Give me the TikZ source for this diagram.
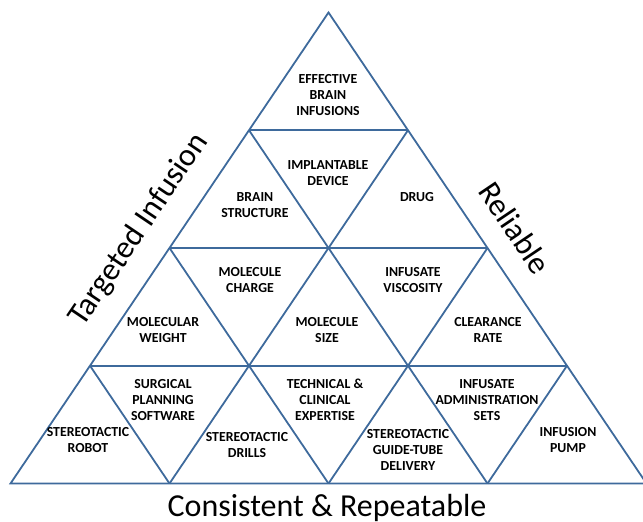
\documentclass[tikz,border=0pt]{standalone}
\usepackage{fontspec}
\setmainfont{Carlito}
\definecolor{edge}{RGB}{62,106,156}
\begin{document}
\begin{tikzpicture}[x=1pt,y=-1pt,
  grid/.style={draw=edge,line width=1.8pt,line join=miter},
  cell/.style={font=\bfseries\fontsize{13.8}{15.8}\selectfont,align=center,inner sep=0pt},
  theme/.style={font=\fontsize{32}{37}\selectfont,inner sep=0pt}]
\useasboundingbox (0,0) rectangle (643,522);
% lattice points: row i (top to bottom), position j (left to right)
\foreach \i in {0,...,4}{
  \foreach \j in {0,...,\i}{
    \coordinate (p\i\j) at ({328.5+79.5*(2*\j-\i)},{12.5+117.75*\i});
  }
}
% outer triangle, horizontal rows and the two families of diagonals
\draw[grid] (p00) -- (p40) -- (p44) -- cycle;
\foreach \i in {1,2,3} \draw[grid] (p\i0) -- (p\i\i);
\foreach \j in {1,2,3} \draw[grid] (p\j\j) -- (p4\j);
\foreach \k/\m in {1/3,2/2,3/1} \draw[grid] (p\k0) -- (p4\m);

% row 0
\node[cell] (effective) at (328,95) {EFFECTIVE\\BRAIN\\INFUSIONS};
% row 1
\node[cell] (brain) at (255,205) {BRAIN\\STRUCTURE};
\node[cell] (implant) at (328,173) {IMPLANTABLE\\DEVICE};
\node[cell] (drug) at (417,197) {DRUG};
% row 2
\node[cell] (weight) at (163,330) {MOLECULAR\\WEIGHT};
\node[cell] (charge) at (250,280) {MOLECULE\\CHARGE};
\node[cell] (size) at (327,330) {MOLECULE\\SIZE};
\node[cell] (viscosity) at (413,280) {INFUSATE\\VISCOSITY};
\node[cell] (clearance) at (488,330) {CLEARANCE\\RATE};
% row 3
\node[cell] (robot) at (88,440) {STEREOTACTIC\\ROBOT};
\node[cell] (planning) at (163,400) {SURGICAL\\PLANNING\\SOFTWARE};
\node[cell] (drills) at (247,445) {STEREOTACTIC\\DRILLS};
\node[cell] (expertise) at (325,400) {TECHNICAL \&\\CLINICAL\\EXPERTISE};
\node[cell] (guide) at (408,450) {STEREOTACTIC\\GUIDE-TUBE\\DELIVERY};
\node[cell] (sets) at (487,400) {INFUSATE\\ADMINISTRATION\\SETS};
\node[cell] (pump) at (568,440) {INFUSION\\PUMP};

% side themes
\node[theme,rotate=56] (targeted) at (139,230) {Targeted Infusion};
\node[theme,rotate=-56] (reliable) at (515,228) {Reliable};
\node[theme,anchor=base] (consistent) at (327,516) {Consistent \& Repeatable};
\end{tikzpicture}
\end{document}
